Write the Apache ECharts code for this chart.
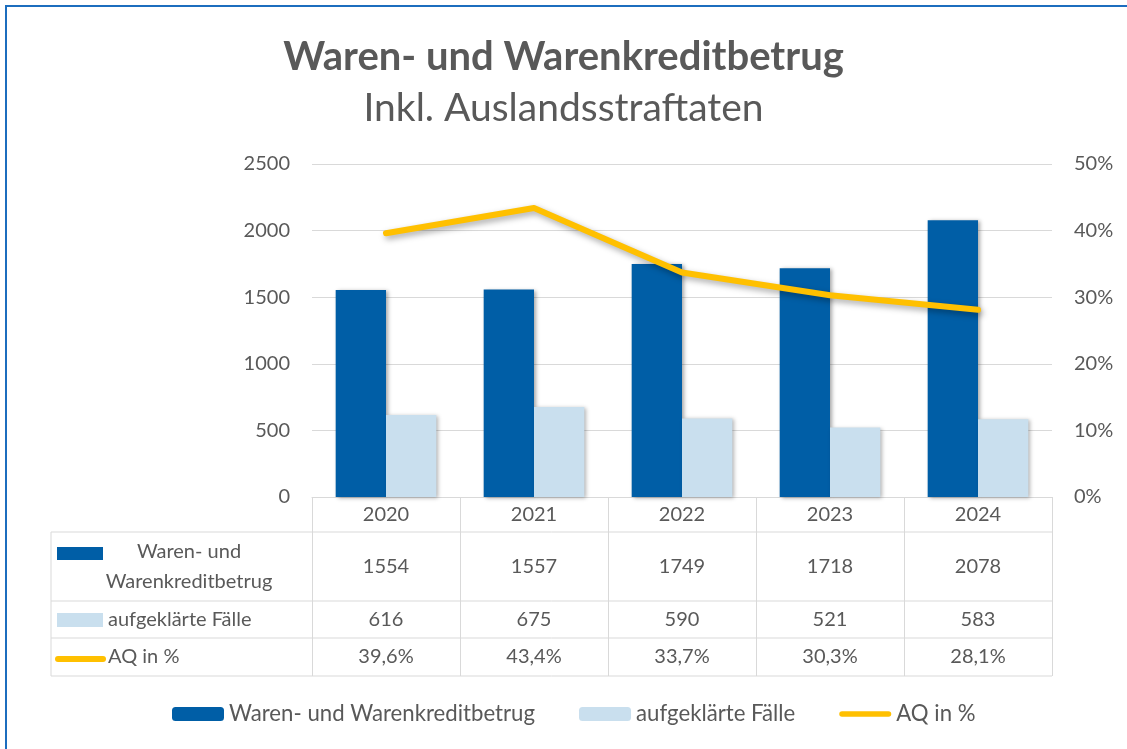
<!DOCTYPE html>
<html>
<head>
<meta charset="utf-8">
<script src="https://cdn.jsdelivr.net/npm/echarts@6/dist/echarts.min.js"></script>
<style>
  html, body { margin: 0; padding: 0; background: #fff; }
  #chart { width: 1127px; height: 749px; }
</style>
</head>
<body>
<div id="chart"></div>
<script>
// Daten
const years = ['2020', '2021', '2022', '2023', '2024'];
const warenValues = [1554, 1557, 1749, 1718, 2078];
const faelleValues = [616, 675, 590, 521, 583];
const aqValues = [39.6, 43.4, 33.7, 30.3, 28.1];
const seriesNames = ['Waren- und Warenkreditbetrug', 'aufgeklärte Fälle', 'AQ in %'];

const FONT = 'Lato, "Open Sans", sans-serif';
const TEXT = '#595959';
const GRID_LINE = '#d9d9d9';
const DARK = '#005EA6';
const LIGHT = '#C9DFEE';
const GOLD = '#FFC000';

// Layout
const gridLeft = 312, gridRight = 1052, gridTop = 164, axisY = 497;
const rowLines = [532, 601, 638, 676];
const tableLeft = 51;

const chart = echarts.init(document.getElementById('chart'));

const fmtPct = v => v.toFixed(1).replace('.', ',') + '%';

chart.setOption({
  backgroundColor: '#fff',
  textStyle: {fontFamily: FONT},
  title: {
    text: 'Waren- und Warenkreditbetrug',
    subtext: 'Inkl. Auslandsstraftaten',
    left: 'center',
    top: 30,
    padding: [5, 5, 5, 35],
    itemGap: 8,
    textStyle: {color: TEXT, fontSize: 40, fontWeight: 'bold', fontFamily: FONT, lineHeight: 44},
    subtextStyle: {color: TEXT, fontSize: 39, fontFamily: FONT, lineHeight: 42}
  },
  legend: {
    bottom: 19,
    left: 167,
    itemWidth: 52,
    itemHeight: 14,
    itemGap: 44,
    textStyle: {color: TEXT, fontSize: 22.2, fontFamily: FONT},
    itemStyle: {shadowBlur: 0, shadowOffsetX: 0, shadowOffsetY: 0},
    data: [
      {name: seriesNames[0]},
      {name: seriesNames[1]},
      {name: seriesNames[2], icon: 'path://M3,0L53,0A3,3,0,0,1,53,6L3,6A3,3,0,0,1,3,0Z', itemStyle: {color: GOLD}}
    ]
  },
  grid: {left: gridLeft, right: 1127 - gridRight, top: gridTop, bottom: 749 - axisY},
  xAxis: {
    type: 'category',
    data: years,
    axisLine: {lineStyle: {color: GRID_LINE}},
    axisTick: {show: true, alignWithLabel: false, length: rowLines[3] - axisY, lineStyle: {color: GRID_LINE}},
    axisLabel: {color: TEXT, fontSize: 20, fontFamily: FONT, margin: 8}
  },
  yAxis: [
    {
      type: 'value', min: 0, max: 2500, interval: 500,
      axisLine: {show: false}, axisTick: {show: false},
      axisLabel: {color: TEXT, fontSize: 20, fontFamily: FONT, margin: 22, formatter: v => String(v)},
      splitLine: {lineStyle: {color: GRID_LINE}}
    },
    {
      type: 'value', min: 0, max: 50, interval: 10,
      axisLine: {show: false}, axisTick: {show: false},
      axisLabel: {color: TEXT, fontSize: 20, fontFamily: FONT, margin: 22, formatter: '{value}%'},
      splitLine: {show: false}
    }
  ],
  series: [
    {
      name: seriesNames[0],
      type: 'bar',
      data: warenValues,
      barGap: '0%',
      barCategoryGap: '32%',
      itemStyle: {color: DARK, shadowBlur: 4, shadowColor: 'rgba(0,0,0,0.35)', shadowOffsetX: 2, shadowOffsetY: 1}
    },
    {
      name: seriesNames[1],
      type: 'bar',
      data: faelleValues,
      itemStyle: {color: LIGHT, shadowBlur: 4, shadowColor: 'rgba(0,0,0,0.3)', shadowOffsetX: 2, shadowOffsetY: 1}
    },
    {
      name: seriesNames[2],
      type: 'line',
      yAxisIndex: 1,
      data: aqValues,
      symbol: 'none',
      itemStyle: {color: GOLD},
      lineStyle: {color: GOLD, width: 6, cap: 'round', join: 'round',
        shadowBlur: 6, shadowColor: 'rgba(0,0,0,0.35)', shadowOffsetX: 2, shadowOffsetY: 3}
    }
  ]
});

// Datentabelle unter der Achse
function buildTable() {
  const els = [];
  const lineStyle = {stroke: GRID_LINE, lineWidth: 1};
  rowLines.forEach(y => {
    els.push({type: 'line', shape: {x1: tableLeft, y1: y, x2: gridRight, y2: y}, style: lineStyle, silent: true});
  });
  els.push({type: 'line', shape: {x1: tableLeft, y1: rowLines[0], x2: tableLeft, y2: rowLines[3]}, style: lineStyle, silent: true});

  const rowCenters = [
    (rowLines[0] + rowLines[1]) / 2,
    (rowLines[1] + rowLines[2]) / 2,
    (rowLines[2] + rowLines[3]) / 2
  ];
  const rows = [
    warenValues.map(String),
    faelleValues.map(String),
    aqValues.map(fmtPct)
  ];
  rows.forEach((vals, r) => {
    vals.forEach((v, i) => {
      const x = chart.convertToPixel({xAxisIndex: 0}, years[i]);
      els.push({
        type: 'text', x: x, y: rowCenters[r], silent: true,
        style: {text: v, fill: TEXT, font: '20px ' + FONT, align: 'center', verticalAlign: 'middle'}
      });
    });
  });

  // Legendenschlüssel in der Tabelle
  els.push({type: 'rect', shape: {x: 57, y: 547, width: 46, height: 13}, style: {fill: DARK}, silent: true});
  els.push({type: 'rect', shape: {x: 57, y: 613, width: 46, height: 14}, style: {fill: LIGHT}, silent: true});
  els.push({type: 'line', shape: {x1: 58, y1: 659, x2: 103, y2: 659}, style: {stroke: GOLD, lineWidth: 6, lineCap: 'round'}, silent: true});

  els.push({type: 'text', x: 189, y: 552, silent: true,
    style: {text: 'Waren- und', fill: TEXT, font: '20px ' + FONT, align: 'center', verticalAlign: 'middle'}});
  els.push({type: 'text', x: 189, y: 582, silent: true,
    style: {text: 'Warenkreditbetrug', fill: TEXT, font: '20px ' + FONT, align: 'center', verticalAlign: 'middle'}});
  els.push({type: 'text', x: 108, y: rowCenters[1], silent: true,
    style: {text: seriesNames[1], fill: TEXT, font: '20px ' + FONT, align: 'left', verticalAlign: 'middle'}});
  els.push({type: 'text', x: 108, y: rowCenters[2], silent: true,
    style: {text: seriesNames[2], fill: TEXT, font: '20px ' + FONT, align: 'left', verticalAlign: 'middle'}});

  // Rahmen
  els.push({type: 'rect', shape: {x: 6, y: 6, width: 1400, height: 1000}, style: {fill: 'none', stroke: '#1C6DBE', lineWidth: 2}, silent: true});

  chart.setOption({graphic: els});
}
buildTable();
</script>
</body>
</html>
